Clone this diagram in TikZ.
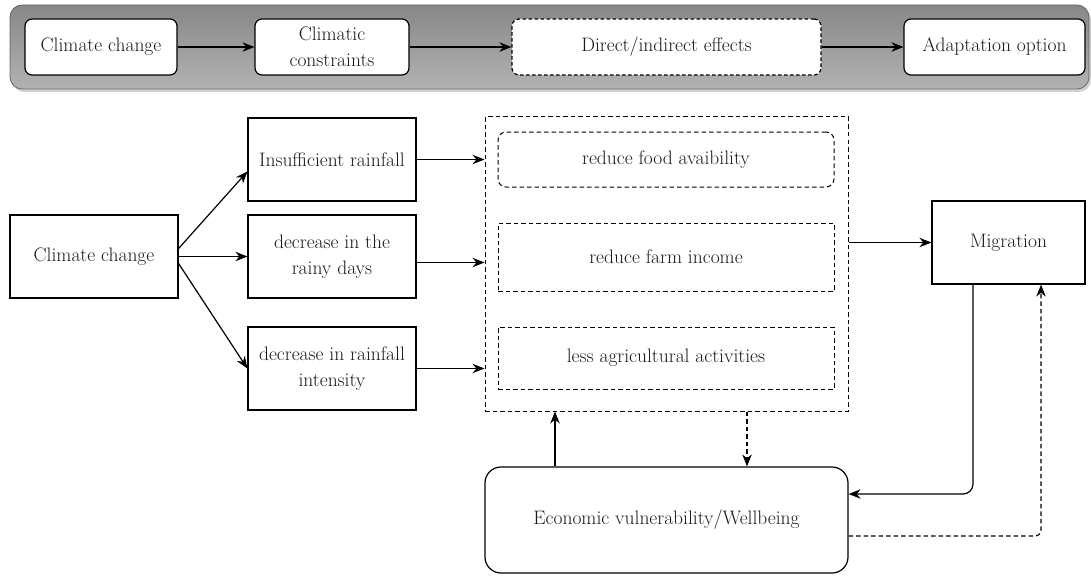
\documentclass[tikz,border=0pt]{standalone}
\usetikzlibrary{arrows.meta,calc}
\tikzset{
  txt/.style={font=\fontsize{19.5}{26}\selectfont, text=black!90, align=center, inner sep=0pt},
  topbox/.style={txt, draw=black, line width=1.2pt, fill=white, rounded corners=7pt, minimum height=56pt},
  topdash/.style={topbox, dash pattern=on 3.5pt off 2.5pt},
  plainbox/.style={txt, draw=black, line width=1.2pt, fill=white, minimum width=168pt, minimum height=83pt},
  dashbox/.style={txt, draw=black, line width=1pt, dash pattern=on 4.5pt off 3pt, minimum width=336pt},
  arr/.style={line width=1.2pt, -{Stealth[length=12pt,width=9.5pt]}},
  darr/.style={arr, line width=1.1pt, dash pattern=on 4.5pt off 3pt},
}
\begin{document}
\begin{tikzpicture}[x=1pt,y=-1pt]
\useasboundingbox (0,0) rectangle (1091,575);
% top band
\fill[black!18, rounded corners=12pt] (12,8) rectangle (1091,92);
\shade[top color=black!47, bottom color=black!30, draw=black!60, line width=0.8pt, rounded corners=12pt]
  (10,5) rectangle (1089,89);
\node[topbox, minimum width=152pt] (t1) at (101,47) {Climate change};
\node[topbox, minimum width=154pt] (t2) at (332,47) {Climatic\\constraints};
\node[topdash, minimum width=309pt] (t3) at (666.5,47) {Direct/indirect effects};
\node[topbox, minimum width=181pt] (t4) at (994.5,47) {Adaptation option};
\draw[arr] (t1) -- (t2);
\draw[arr] (t2) -- (t3);
\draw[arr] (t3) -- (t4);

% main diagram
\node[plainbox] (cc) at (94,256.5) {Climate change};
\node[plainbox] (b1) at (332,159.5) {Insufficient rainfall};
\node[plainbox] (b2) at (332,256.5) {decrease in the\\rainy days};
\node[plainbox] (b3) at (332,368.5) {decrease in rainfall\\intensity};

\node[draw=black, line width=1pt, dash pattern=on 4.5pt off 3pt, minimum width=363pt, minimum height=294pt, inner sep=0pt] (cont) at (666.5,264) {};
\node[dashbox, rounded corners=8pt, minimum height=55pt] (i1) at (666,159.5) {reduce food avaibility};
\node[dashbox, minimum height=68pt] (i2) at (666,257) {reduce farm income};
\node[dashbox, minimum height=62pt] (i3) at (666,358) {less agricultural activities};

\node[plainbox, minimum width=153pt] (mig) at (1008.5,242.5) {Migration};
\node[txt, draw=black, line width=1.2pt, rounded corners=16pt, minimum width=363pt, minimum height=106pt] (econ) at (666.5,520) {Economic vulnerability/Wellbeing};

\draw[arr] ([yshift=8pt]cc.east) -- ([yshift=-12pt]b1.west);
\draw[arr] (cc.east) -- (b2.west);
\draw[arr] ([yshift=-7pt]cc.east) -- (b3.west);

\draw[arr] (b1.east) -- (b1.east -| cont.west);
\draw[arr] ([yshift=-6pt]b2.east) -- ([yshift=-6pt]b2.east -| cont.west);
\draw[arr] (b3.east) -- (b3.east -| cont.west);

\draw[arr] (mig.west -| cont.east) -- (mig.west);

\draw[arr, rounded corners=10pt] ([xshift=-35.5pt]mig.south) |- ([yshift=26pt]econ.east);
\draw[darr, rounded corners=6pt] ([yshift=-16pt]econ.east) -| ([xshift=32.5pt]mig.south);

\draw[arr] ([xshift=-111.5pt]econ.north) -- ([xshift=-111.5pt]cont.south);
\draw[darr] ([xshift=80.5pt]cont.south) -- ([xshift=80.5pt]econ.north);
\end{tikzpicture}
\end{document}
